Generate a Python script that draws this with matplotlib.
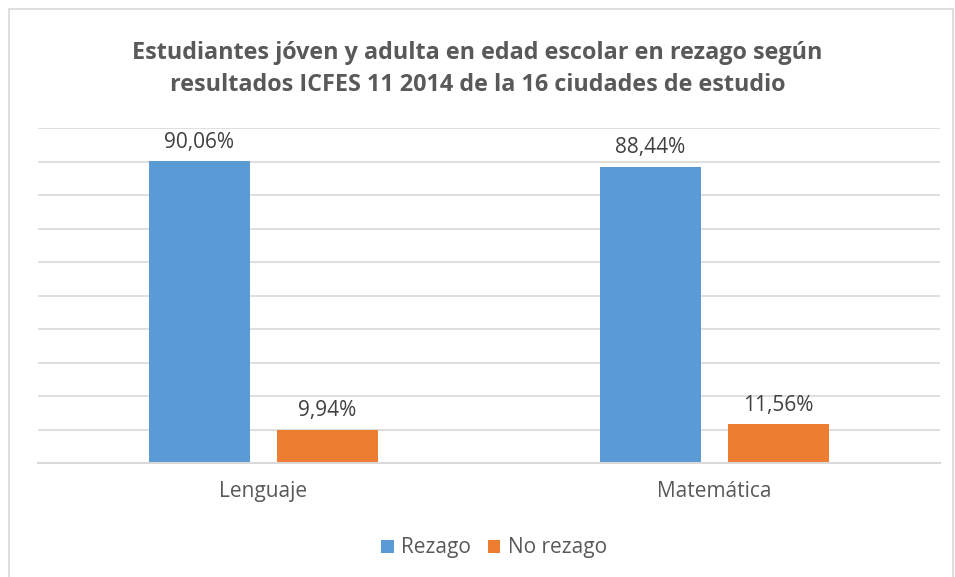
import numpy as np
import matplotlib
matplotlib.use('Agg')
import matplotlib.pyplot as plt
from matplotlib.patches import Rectangle

plt.rcParams['font.family'] = ['Open Sans', 'DejaVu Sans']

categories = ['Lenguaje', 'Matemática']
series_names = ['Rezago', 'No rezago']
rezago = [90.06, 88.44]
no_rezago = [9.94, 11.56]
labels_rezago = ['90,06%', '88,44%']
labels_no_rezago = ['9,94%', '11,56%']

colors = ['#5B9BD5', '#ED7D31']
text_grey = '#595959'
grid_grey = '#D9D9D9'

fig = plt.figure(figsize=(9.55, 5.77), dpi=100)
ax = fig.add_axes([38/955, 1-463/577, (940-38)/955, (463-128)/577])

# chart frame
fig.patches.append(Rectangle((9/955, -0.01), (953-9)/955, 1-9/577+0.01,
                             transform=fig.transFigure, fill=False,
                             edgecolor=grid_grey, linewidth=1.2))

x = np.arange(len(categories))
w = 0.224
off = 0.142
b1 = ax.bar(x - off, rezago, w, color=colors[0], label=series_names[0], zorder=3)
b2 = ax.bar(x + off, no_rezago, w, color=colors[1], label=series_names[1], zorder=3)

for bars, labs in ((b1, labels_rezago), (b2, labels_no_rezago)):
    for bar, lab in zip(bars, labs):
        ax.annotate(lab, (bar.get_x() + bar.get_width()/2, bar.get_height()),
                    xytext=(0, 6), textcoords='offset points', ha='center', va='bottom',
                    fontsize=15, color='#404040', annotation_clip=False)

ax.set_xlim(-0.5, 1.5)
ax.set_ylim(0, 100)
ax.set_yticks(np.arange(0, 101, 10))
ax.yaxis.grid(True, color=grid_grey, linewidth=1.2, zorder=0)
ax.tick_params(axis='y', left=False, labelleft=False)
ax.set_xticks(x, categories)
ax.tick_params(axis='x', length=0, pad=13, labelsize=15, labelcolor=text_grey)
for s in ['top', 'right', 'left']:
    ax.spines[s].set_visible(False)
ax.spines['bottom'].set_color(grid_grey)
ax.spines['bottom'].set_linewidth(1.5)
ax.spines['bottom'].set_zorder(4)

fig.text(0.5, 1-53/577, 'Estudiantes jóven y adulta en edad escolar en rezago según',
         ha='center', va='center', fontsize=16.8, fontweight='bold', color=text_grey)
fig.text(0.5, 1-85/577, 'resultados ICFES 11 2014 de la 16 ciudades de estudio',
         ha='center', va='center', fontsize=16.8, fontweight='bold', color=text_grey)

fig.legend(loc='center', bbox_to_anchor=(494/955, 1-548/577), ncol=2, frameon=False,
           fontsize=15, labelcolor=text_grey, handlelength=0.6, handleheight=0.6,
           handletextpad=0.35, columnspacing=0.8)

plt.savefig('out.png', dpi=100)
